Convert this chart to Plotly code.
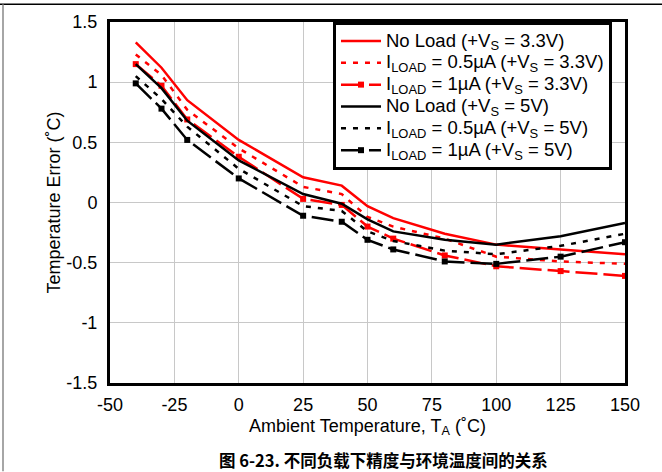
import plotly.graph_objects as go

x_vals = [-40, -30, -20, 0, 25, 40, 50, 60, 80, 100, 125, 150]

red_noload = [1.33, 1.12, 0.85, 0.52, 0.21, 0.14, -0.03, -0.13, -0.26, -0.35, -0.39, -0.43]
red_05ua = [1.23, 1.06, 0.77, 0.45, 0.13, 0.07, -0.12, -0.20, -0.30, -0.45, -0.49, -0.51]
red_1ua = [1.15, 0.97, 0.69, 0.38, 0.03, -0.02, -0.20, -0.30, -0.44, -0.53, -0.57, -0.61]
blk_noload = [1.15, 0.95, 0.68, 0.35, 0.07, -0.01, -0.14, -0.24, -0.31, -0.35, -0.28, -0.17]
blk_05ua = [1.05, 0.86, 0.63, 0.28, -0.03, -0.07, -0.24, -0.32, -0.40, -0.43, -0.36, -0.26]
blk_1ua = [0.99, 0.78, 0.52, 0.20, -0.11, -0.16, -0.31, -0.39, -0.49, -0.51, -0.45, -0.33]

names = [
    "No Load (+V<sub>S</sub> = 3.3V)",
    "I<sub>LOAD</sub> = 0.5µA (+V<sub>S</sub> = 3.3V)",
    "I<sub>LOAD</sub> = 1µA (+V<sub>S</sub> = 3.3V)",
    "No Load (+V<sub>S</sub> = 5V)",
    "I<sub>LOAD</sub> = 0.5µA (+V<sub>S</sub> = 5V)",
    "I<sub>LOAD</sub> = 1µA (+V<sub>S</sub> = 5V)",
]

x_ticks = [-50, -25, 0, 25, 50, 75, 100, 125, 150]
y_ticks = [-1.5, -1, -0.5, 0, 0.5, 1, 1.5]
y_ticktext = ["-1.5", "-1", "-0.5", "0", "0.5", "1", "1.5"]

RED = "#ff0000"
BLK = "#000000"
series = [
    (red_noload, RED, "solid", False),
    (red_05ua, RED, "5px,7px", False),
    (red_1ua, RED, "22px,6px", True),
    (blk_noload, BLK, "solid", False),
    (blk_05ua, BLK, "5px,7px", False),
    (blk_1ua, BLK, "22px,6px", True),
]

fig = go.Figure()
for (ys, col, dash, mk), nm in zip(series, names):
    fig.add_trace(go.Scatter(
        x=x_vals, y=ys,
        name='<span style="font-size:18.5px">' + nm + "</span>",
        mode="lines+markers" if mk else "lines",
        line=dict(color=col, width=2.5, dash=dash),
        marker=dict(color=col, size=6, symbol="square"),
    ))

font = "Liberation Sans, Arial, sans-serif"
fig.update_layout(
    width=662, height=472,
    margin=dict(l=110, r=37, t=19, b=89),
    paper_bgcolor="white", plot_bgcolor="white",
    font=dict(family=font, size=18, color="black"),
    showlegend=True,
    legend=dict(
        x=0.433, y=1, xanchor="left", yanchor="top",
        bgcolor="white", bordercolor="black", borderwidth=3,
        font=dict(size=14.5, family=font),
        tracegroupgap=0, itemwidth=40,
    ),
    xaxis=dict(
        range=[-50, 150], tickvals=x_ticks, ticktext=[str(v) for v in x_ticks],
        showgrid=True, gridcolor="#c8c8c8", gridwidth=1,
        showline=True, linecolor="black", linewidth=3, mirror=True,
        ticks="", zeroline=False, ticklabelstandoff=3,
        title=dict(text="Ambient Temperature, T<sub>A</sub> (˚C)", standoff=6,
                   font=dict(size=18)),
    ),
    yaxis=dict(
        range=[-1.5, 1.5], tickvals=y_ticks, ticktext=y_ticktext,
        showgrid=True, gridcolor="#c8c8c8", gridwidth=1,
        showline=True, linecolor="black", linewidth=3, mirror=True,
        ticks="", zeroline=False, ticklabelstandoff=6,
        title=dict(text="Temperature Error (˚C)", standoff=2, font=dict(size=18)),
    ),
    annotations=[dict(
        text="<b>图 6-23. 不同负载下精度与环境温度间的关系</b>",
        xref="paper", yref="paper", x=0.532, y=-78/364,
        xanchor="center", yanchor="middle", showarrow=False,
        font=dict(family="Noto Sans CJK SC", size=16.5, color="black"),
    )],
    shapes=[
        dict(type="line", xref="paper", yref="paper",
             x0=-110/515, x1=552/515, y0=1+18/364, y1=1+18/364,
             line=dict(color="black", width=1.5)),
        dict(type="line", xref="paper", yref="paper",
             x0=-107/515, x1=-107/515, y0=1+18/364, y1=-89/364,
             line=dict(color="#888888", width=1.5)),
    ],
)

fig.write_html("out.html", config={"displayModeBar": False},
               post_script="document.body.style.margin='0';")
